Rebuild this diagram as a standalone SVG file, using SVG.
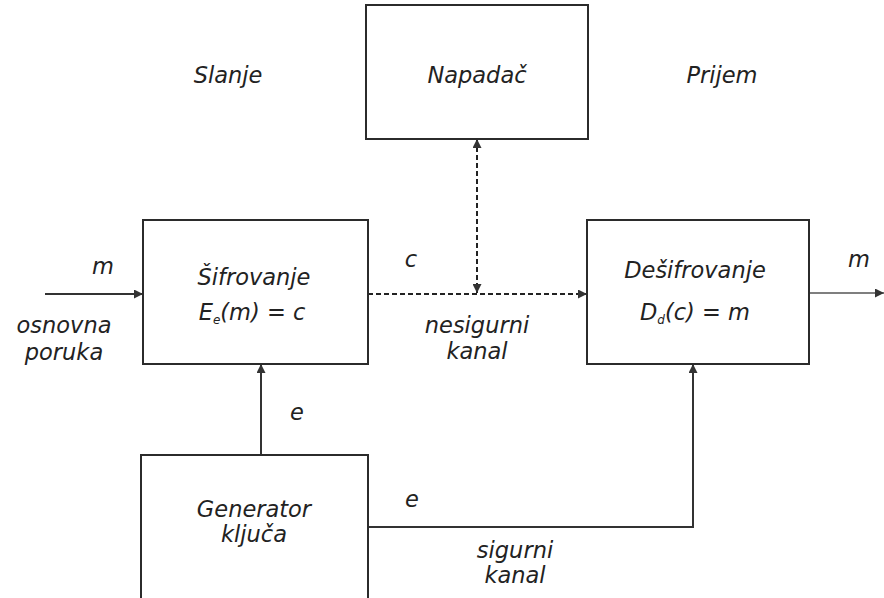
<svg xmlns="http://www.w3.org/2000/svg" width="884" height="598" viewBox="0 0 884 598">
<style>
.box{fill:#fff;stroke:#2b2b2b;stroke-width:2}
.t{font-family:"DejaVu Sans","Verdana",sans-serif;font-style:italic;font-size:22.5px;fill:#222;text-anchor:middle}
.sub{font-size:12px}
.ln{fill:none;stroke:#333;stroke-width:2}
.dash{fill:none;stroke:#222;stroke-width:2;stroke-dasharray:5 3}
</style>
<defs>
<marker id="ah" viewBox="0 0 10 10" refX="10" refY="5" markerWidth="9" markerHeight="9" markerUnits="userSpaceOnUse" orient="auto-start-reverse">
<path d="M0,0 L10,5 L0,10 z" fill="#333"/>
</marker>
</defs>
<rect width="884" height="598" fill="#fff"/>
<g id="labels">
<text class="t" x="228" y="83">Slanje</text>
<text class="t" x="722" y="83">Prijem</text>
<text class="t" x="103" y="274">m</text>
<text class="t" x="64" y="333">osnovna</text>
<text class="t" x="64" y="360">poruka</text>
<text class="t" x="411" y="267">c</text>
<text class="t" x="477" y="333">nesigurni</text>
<text class="t" x="477" y="359">kanal</text>
<text class="t" x="859" y="267">m</text>
<text class="t" x="297" y="420">e</text>
<text class="t" x="412" y="507">e</text>
<text class="t" x="515" y="558">sigurni</text>
<text class="t" x="515" y="583">kanal</text>
</g>
<g id="connectors">
<line class="ln" x1="45" y1="294" x2="143" y2="294" marker-end="url(#ah)"/>
<line class="dash" x1="368" y1="294" x2="587" y2="294" marker-end="url(#ah)"/>
<line class="dash" x1="477" y1="139" x2="477" y2="293" marker-start="url(#ah)" marker-end="url(#ah)"/>
<line class="ln" x1="809" y1="293" x2="884" y2="293" style="stroke:#555;stroke-width:1.5" marker-end="url(#ah)"/>
<line class="ln" x1="261" y1="455" x2="261" y2="364" marker-end="url(#ah)"/>
<polyline class="ln" points="368,527 693,527 693,364" marker-end="url(#ah)"/>
</g>
<g id="napadac">
<rect class="box" x="366" y="5" width="222" height="134"/>
<text class="t" x="477" y="83">Napadač</text>
</g>
<g id="sifrovanje">
<rect class="box" x="143" y="220" width="225" height="144"/>
<text class="t" x="254" y="285">Šifrovanje</text>
<text class="t" x="252" y="320">E<tspan class="sub" dy="4">e</tspan><tspan dy="-4">(m) = c</tspan></text>
</g>
<g id="desifrovanje">
<rect class="box" x="587" y="220" width="222" height="144"/>
<text class="t" x="695" y="278">Dešifrovanje</text>
<text class="t" x="695" y="320">D<tspan class="sub" dy="4">d</tspan><tspan dy="-4">(c) = m</tspan></text>
</g>
<g id="generator">
<rect class="box" x="141" y="455" width="227" height="160"/>
<text class="t" x="254" y="517">Generator</text>
<text class="t" x="254" y="542">ključa</text>
</g>
</svg>
